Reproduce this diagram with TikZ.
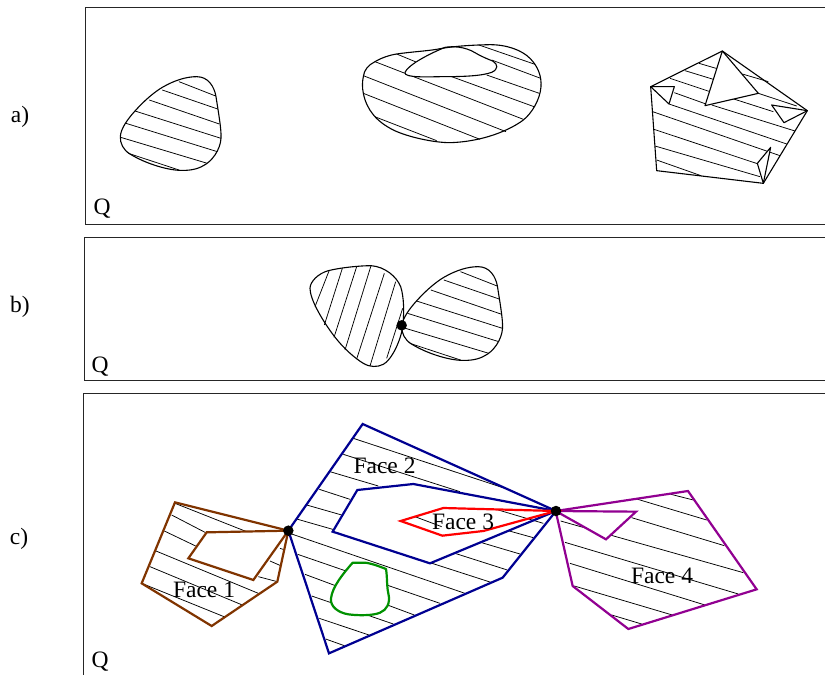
\documentclass[tikz,border=0pt]{standalone}
\usepackage{fontspec}
\setmainfont{Liberation Serif}
\definecolor{fbrown}{RGB}{128,52,0}
\definecolor{fnavy}{RGB}{0,0,145}
\definecolor{fgreen}{RGB}{0,145,0}
\definecolor{fpurple}{RGB}{145,0,145}
\tikzset{
  zm/.style 2 args={shift={(#1,#2)},x=.33333pt,y=-.33333pt},
  frameline/.style={draw=black!85,line width=.8pt},
  hatchline/.style={draw=black,line width=.75pt},
  blob/.style={draw=black,line width=1.1pt,line join=round},
  hole/.style={fill=white},
  face/.style={draw=#1,line width=2.2pt,line join=miter},
  lbl/.style={font=\fontsize{23.5}{24}\selectfont,inner sep=0pt},
  vertexdot/.style={circle,fill=black,inner sep=0pt,minimum size=10.5pt}
}
\newcommand{\teardrop}{%
  \foreach \a/\b/\c/\d in {297/245/407/288,247/270/413/327,208/300/418/372,165/333/423/415,138/370/412/455,122/412/382/490,145/460/297/510}
    \draw[hatchline] (\a,\b) -- (\c,\d);
  \draw[blob] (350,230) .. controls (385,230) and (403,260) .. (408,290)
    .. controls (414,330) and (425,390) .. (423,415)
    .. controls (421,450) and (395,485) .. (370,497)
    .. controls (350,509) and (325,512) .. (300,511)
    .. controls (260,510) and (195,490) .. (150,462)
    .. controls (130,450) and (120,430) .. (121,410)
    .. controls (122,385) and (145,355) .. (165,333)
    .. controls (190,305) and (220,278) .. (247,262)
    .. controls (285,240) and (320,230) .. (350,230) -- cycle;}
\newcommand{\capshape}{(165,127) .. controls (175,105) and (230,75) .. (285,52)
    .. controls (310,48) and (345,50) .. (375,68)
    .. controls (395,80) and (415,88) .. (428,93)
    .. controls (445,103) and (445,118) .. (425,127)
    .. controls (395,138) and (340,140) .. (280,140)
    .. controls (240,140) and (160,145) .. (165,127) -- cycle}
\newcommand{\pondshape}{(218,458) -- (255,458) .. controls (275,460) and (300,470) .. (318,477)
    .. controls (322,500) and (320,530) .. (325,550)
    .. controls (332,580) and (320,600) .. (300,608)
    .. controls (280,617) and (235,617) .. (205,613)
    .. controls (175,608) and (150,590) .. (153,565)
    .. controls (157,530) and (190,490) .. (218,458) -- cycle}
\begin{document}
\begin{tikzpicture}[x=1pt,y=-1pt]
\useasboundingbox (0,0) rectangle (825,675);
% frames
\draw[frameline] (825,7.7) -- (85,7.7) -- (85,224.3) -- (825,224.3);
\draw[frameline] (825,237) -- (84,237) -- (84,380.5) -- (825,380.5);
\draw[frameline] (825,393) -- (83,393) -- (83,675);
\node[lbl] (la) at (20,116.5) {a)};
\node[lbl] (lb) at (20,306.5) {b)};
\node[lbl] (lc) at (19,538.5) {c)};
\node[lbl] (qa) at (102,208.5) {Q};
\node[lbl] (qb) at (100,367) {Q};
\node[lbl] (qc) at (100,661.5) {Q};
% a1
\begin{scope}[zm={80}{0}]
\teardrop
\end{scope}
% a2
\begin{scope}[zm={350}{30}]
\foreach \a/\b/\c/\d in {387/45/555/103,425/90/572/145,410/135/568/190,305/140/552/230,75/95/520/268,40/137/468/305,40/190/390/328,74/260/260/332,140/72/305/140}
  \draw[hatchline] (\a,\b) -- (\c,\d);
\path[hole] \capshape;
\draw[blob] \capshape;
\draw[blob] (40,140) .. controls (42,120) and (55,105) .. (75,95)
  .. controls (95,83) and (120,75) .. (140,72)
  .. controls (180,66) and (230,63) .. (260,58)
  .. controls (310,48) and (370,45) .. (420,44)
  .. controls (470,44) and (515,60) .. (540,85)
  .. controls (565,110) and (575,140) .. (573,170)
  .. controls (570,210) and (545,250) .. (520,270)
  .. controls (480,300) and (400,335) .. (300,338)
  .. controls (250,338) and (170,320) .. (130,300)
  .. controls (80,275) and (50,240) .. (40,190)
  .. controls (36,170) and (37,155) .. (40,140) -- cycle;
\end{scope}
% a3
\begin{scope}[zm={630}{30}]
\foreach \a/\b/\c/\d in {207/100/265/117,165/122/250/148,120/145/240/185,133/188/228/222,337/132/415/155,385/190/500/228,305/205/430/245,245/225/495/303,117/222/470/342,68/245/450/377,72/298/385/402,75/348/390/440,80/390/213/437}
  \draw[hatchline] (\a,\b) -- (\c,\d);
\draw[blob,hole] (62,170) -- (133,170) -- (117,222) -- cycle;
\draw[blob,hole] (277,63) -- (385,190) -- (225,227) -- cycle;
\draw[blob,hole] (425,225) -- (532,242) -- (462,278) -- cycle;
\draw[blob,hole] (400,460) -- (382,400) -- (422,352) -- cycle;
\draw[blob] (62,170) -- (277,63) -- (532,242) -- (400,460) -- (80,422) -- cycle;
\end{scope}
% b
\begin{scope}[zm={290}{250}]
\foreach \a/\b/\c/\d in {117/63/75/170,157/55/103/225,200/50/132/262,243/47/165/300,283/70/200/327,317/95/240/348,338/175/290/325}
  \draw[hatchline] (\a,\b) -- (\c,\d);
\draw[blob] (60,115) .. controls (60,95) and (85,70) .. (115,62)
  .. controls (150,53) and (210,47) .. (243,47)
  .. controls (285,50) and (320,80) .. (332,110)
  .. controls (342,140) and (343,190) .. (338,230)
  .. controls (333,270) and (305,330) .. (280,343)
  .. controls (262,352) and (240,352) .. (220,340)
  .. controls (195,325) and (160,295) .. (130,255)
  .. controls (100,215) and (60,150) .. (60,115) -- cycle;
\end{scope}
\begin{scope}[zm={361.5}{190}]
\teardrop
\end{scope}
\begin{scope}[zm={290}{250}]
\node[vertexdot] (vb) at (335,226) {};
\end{scope}
% c: hatching of faces 1, 2, 4
\begin{scope}[zm={130}{480}]
\foreach \a/\b/\c/\d in {135/70/355/157,125/105/225/157,103/153/197/198,78/213/385/340,60/260/337/375,40/312/282/410,450/205/465/210,420/243/452/257,385/290/442/305}
  \draw[hatchline] (\a,\b) -- (\c,\d);
\end{scope}
\begin{scope}[zm={290}{420}]
\foreach \a/\b/\c/\d in {190/55/651/207,160/103/510/215,120/155/265/198,88/208/180/238,50/255/155/285,20/297/135/330}
  \draw[hatchline] (\a,\b) -- (\c,\d);
\end{scope}
\begin{scope}[zm={285}{520}]
\foreach \a/\b/\c/\d in {122/357/178/377,103/295/252/345,80/228/325/312,60/163/388/285,38/103/465/250,20/42/540/220}
  \draw[hatchline] (\a,\b) -- (\c,\d);
\end{scope}
\begin{scope}[zm={420}{490}]
\foreach \a/\b/\c/\d in {268/123/340/143,185/158/300/192,105/190/262/240,30/218/213/277}
  \draw[hatchline] (\a,\b) -- (\c,\d);
\end{scope}
\begin{scope}[zm={540}{480}]
\foreach \a/\b/\c/\d in {393/43/460/60,290/57/500/120,275/113/553/197,62/123/610/278,75/187/595/342,90/250/495/375,103/318/397/405,215/405/305/432}
  \draw[hatchline] (\a,\b) -- (\c,\d);
\end{scope}
% c: holes and outlines
\begin{scope}[zm={280}{410}]
\path[hole] (232,240) -- (400,222) -- (828,303) -- (450,460) -- (158,365) -- cycle;
\path[hole] \pondshape;
\end{scope}
\begin{scope}[zm={420}{490}]
\foreach \a/\b/\c/\d in {235/60/370/100,-15/80/65/110}
  \draw[hatchline] (\a,\b) -- (\c,\d);
\end{scope}
\begin{scope}[zm={130}{480}]
\path[hole] (475,152) -- (230,157) -- (175,235) -- (370,300) -- cycle;
\draw[face=fbrown] (135,67) -- (475,152) -- (442,305) -- (245,438) -- (35,310) -- cycle;
\draw[face=fbrown] (475,152) -- (230,157) -- (175,235) -- (370,300) -- cycle;
\end{scope}
\begin{scope}[zm={540}{480}]
\path[hole] (47,93) -- (288,95) -- (198,178) -- cycle;
\draw[face=fpurple] (47,93) -- (444,33) -- (650,328) -- (265,447) -- (98,318) -- cycle;
\draw[face=fpurple] (47,93) -- (288,95) -- (198,178) -- cycle;
\end{scope}
\begin{scope}[zm={280}{410}]
\draw[face=fnavy] (248,42) -- (828,303) -- (668,503) -- (147,730) -- (25,362) -- cycle;
\draw[face=fnavy] (232,240) -- (400,222) -- (828,303) -- (450,460) -- (158,365) -- cycle;
\draw[face=red] (362,333) -- (490,294) -- (828,303) -- (610,363) -- (487,377) -- cycle;
\draw[draw=fgreen,line width=2.2pt,line join=round] \pondshape;
\node[vertexdot] (vl) at (25,362) {};
\node[vertexdot] (vr) at (828,303) {};
\end{scope}
\node[lbl] (f1) at (204,590) {Face 1};
\node[lbl] (f2) at (384.5,466) {Face 2};
\node[lbl] (f3) at (463,522) {Face 3};
\node[lbl] (f4) at (662,576) {Face 4};
\end{tikzpicture}
\end{document}
